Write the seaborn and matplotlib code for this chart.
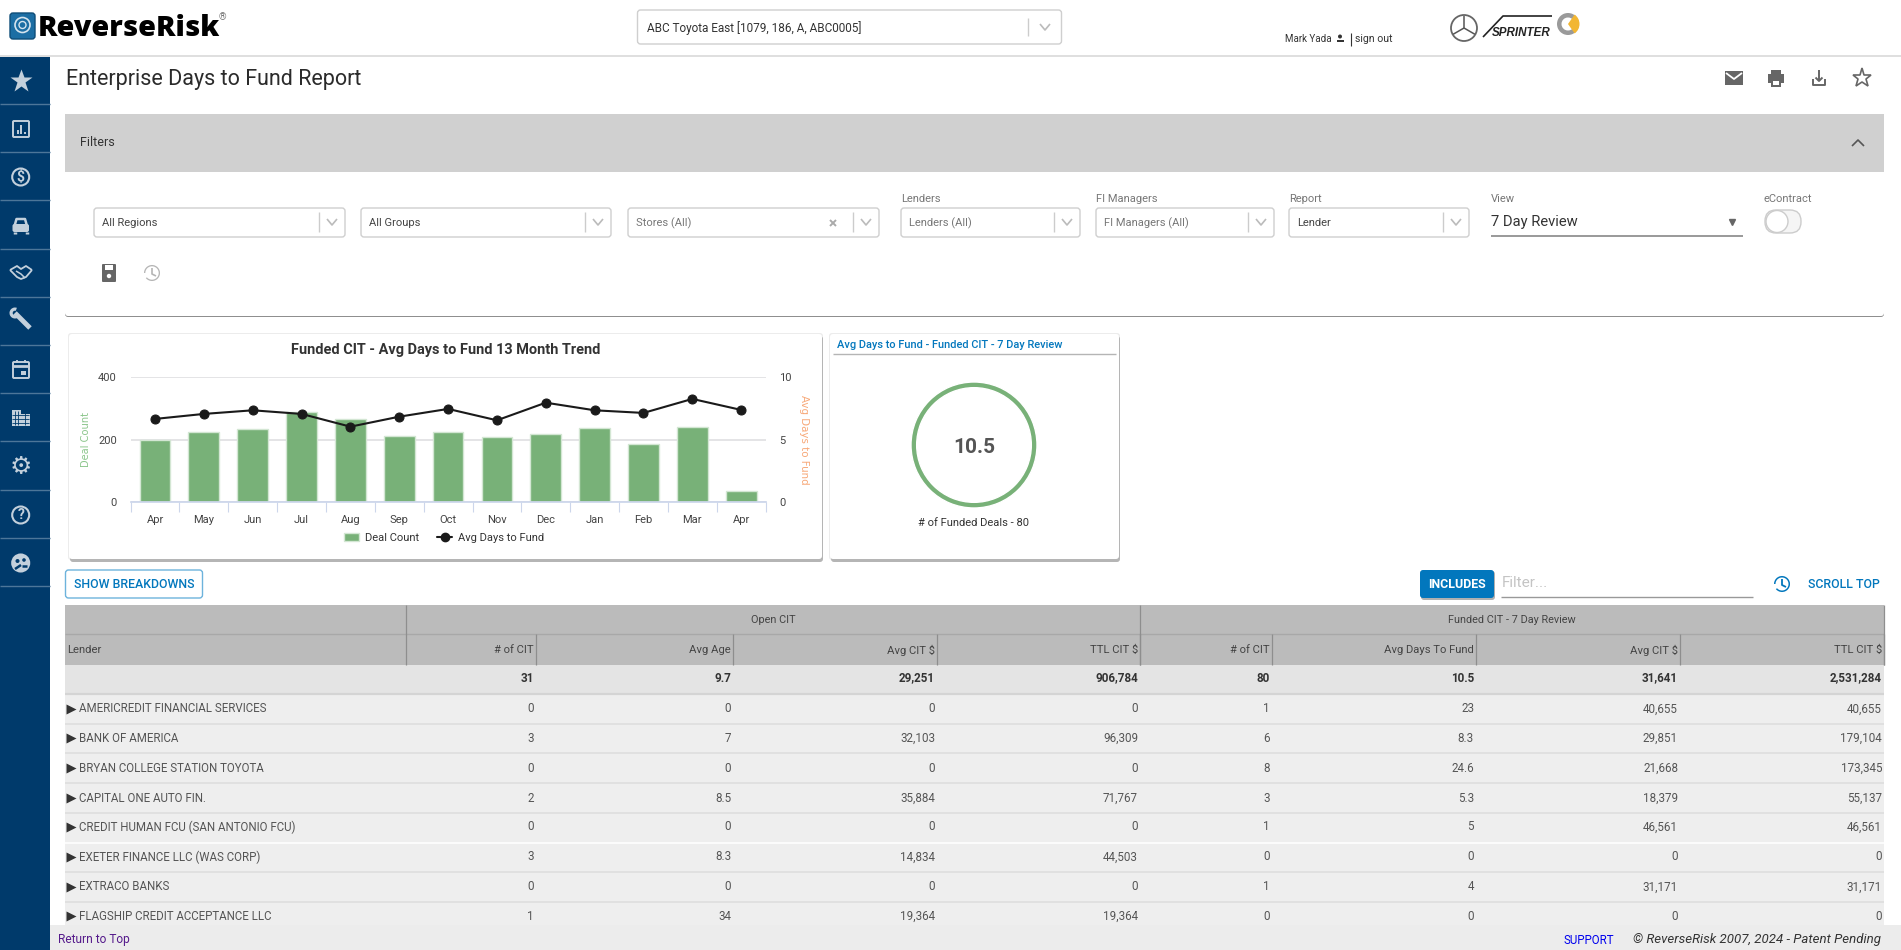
import numpy as np
import pandas as pd
import matplotlib
matplotlib.use("Agg")
import matplotlib.pyplot as plt
import seaborn as sns
from matplotlib.lines import Line2D
from matplotlib.patches import Circle, FancyBboxPatch, Patch, Rectangle, Wedge

months = ["Apr", "May", "Jun", "Jul", "Aug", "Sep", "Oct", "Nov", "Dec", "Jan", "Feb", "Mar", "Apr"]
deal_count = [199, 225, 234, 289, 266, 213, 225, 208, 217, 239, 185, 242, 35]
avg_days = [6.67, 7.07, 7.36, 7.07, 6.05, 6.85, 7.47, 6.56, 7.97, 7.36, 7.15, 8.27, 7.39]

lenders = ["AMERICREDIT FINANCIAL SERVICES", "BANK OF AMERICA", "BRYAN COLLEGE STATION TOYOTA",
           "CAPITAL ONE AUTO FIN.", "CREDIT HUMAN FCU (SAN ANTONIO FCU)", "EXETER FINANCE LLC (WAS CORP)",
           "EXTRACO BANKS", "FLAGSHIP CREDIT ACCEPTANCE LLC"]
open_count = [0, 3, 0, 2, 0, 3, 0, 1]
open_age = [0, 7, 0, 8.5, 0, 8.3, 0, 34]
open_avg = [0, 32103, 0, 35884, 0, 14834, 0, 19364]
open_total = [0, 96309, 0, 71767, 0, 44503, 0, 19364]
funded_count = [1, 6, 8, 3, 1, 0, 1, 0]
funded_days = [23, 8.3, 24.6, 5.3, 5, 0, 4, 0]
funded_avg = [40655, 29851, 21668, 18379, 46561, 0, 31171, 0]
funded_total = [40655, 179104, 173345, 55137, 46561, 0, 31171, 0]
table_totals = [31, 9.7, 29251, 906784, 80, 10.5, 31641, 2531284]
column_titles = ["# of CIT", "Avg Age", "Avg CIT $", "TTL CIT $", "# of CIT", "Avg Days To Fund", "Avg CIT $", "TTL CIT $"]
column_edges = [536, 733, 937, 1140, 1272, 1476, 1680, 1884]
row_centers = [709, 738, 768, 798, 827, 857, 887, 916]
row_lines = [724, 753, 783, 813, 843, 872, 902]

filter_boxes = [(94, 345, "All Regions", None), (361, 611, "All Groups", None), (628, 879, "Stores (All)", None),
                (901, 1080, "Lenders (All)", "Lenders"), (1096, 1274, "FI Managers (All)", "FI Managers"),
                (1289, 1469, "Lender", "Report")]
placeholder_filters = ["Stores (All)", "Lenders (All)", "FI Managers (All)"]

ring_value = 10.5
funded_deals = 80

NAVY = "#003a6b"
GREEN = "#78b178"
BLUE = "#0277bd"
ICON = "#c3d0dc"

sns.set_theme(style="white")
plt.rcParams["font.family"] = ["Roboto", "DejaVu Sans"]
plt.rcParams["axes.unicode_minus"] = False

fig = plt.figure(figsize=(19.01, 9.5), dpi=100, facecolor="white")

# page background drawn in pixel coordinates
page = fig.add_axes([0, 0, 1, 1])
page.set_xlim(0, 1901)
page.set_ylim(950, 0)
page.axis("off")


def rect(x0, y0, x1, y1, color, z=1, **kw):
    page.add_patch(Rectangle((x0, y0), x1 - x0, y1 - y0, facecolor=color, edgecolor="none", zorder=z, **kw))


def box(x0, y0, x1, y1, face="white", edge="#cfcfcf", lw=1, rad=3, z=2):
    page.add_patch(FancyBboxPatch((x0 + rad, y0 + rad), x1 - x0 - 2 * rad, y1 - y0 - 2 * rad,
                                  boxstyle=f"round,pad={rad},rounding_size={rad}", facecolor=face,
                                  edgecolor=edge, linewidth=lw, zorder=z))


def label(x, y, s, size=7.5, color="#333333", ha="left", **kw):
    page.text(x, y, s, fontsize=size, color=color, ha=ha, va="center", zorder=6, **kw)


def seg(xs, ys, color, lw=1.0, z=5, **kw):
    page.plot(xs, ys, color=color, linewidth=lw, zorder=z, solid_capstyle=kw.pop("cap", "butt"), **kw)


def ring(x, y, r, color, lw=1.5, face="none", z=5):
    page.add_patch(Circle((x, y), r, facecolor=face, edgecolor=color, linewidth=lw, zorder=z))


def card(x0, y0, x1, y1):
    box(x0 - 1, y0 - 1, x1 + 1, y1 + 1, face="#ececec", edge="none", z=2)
    box(x0 + 1, y0 + 2, x1 + 1, y1 + 3, face="#b5b5b5", edge="none", z=2)
    box(x0, y0, x1, y1, edge="none", z=3)


# top header
seg([0, 1901], [56, 56], "#d9d9d9", lw=1.2)
box(10, 13, 35, 39, face="#1c6ea4", edge="#0f4d78", rad=3, z=3)
ring(22.5, 25, 7.5, "#d5e4ee", lw=1.2)
ring(22.5, 25, 3.5, "#d5e4ee", lw=1.0)
page.text(38, 28, "ReverseRisk", fontsize=20.8, color="black", family="Open Sans", fontweight="extra bold",
          ha="left", va="center", zorder=6)
label(219, 17, "®", size=7, color="#777777")
box(637.5, 10, 1061.5, 44)
label(647, 28, "ABC Toyota East [1079, 186, A, ABC0005]", size=8.5)
seg([1028, 1028], [18, 36], "#cccccc")
seg([1040, 1045, 1050], [24, 30, 24], "#bbbbbb", lw=1.2)
label(1285, 39, "Mark Yada", size=7)
page.add_patch(Circle((1340, 36.5), 2, facecolor="#333333", edgecolor="none", zorder=6))
rect(1336.5, 39.5, 1343.5, 42, "#333333", z=6)
seg([1350.5, 1350.5], [33, 46], "#333333", lw=0.8)
label(1355, 39, "sign out", size=7.6)

# dealer logos
ring(1464, 28, 13, "#666666", lw=1.3)
for ang in [90, 210, 330]:
    seg([1464, 1464 + 12.5 * np.cos(np.radians(ang))], [28, 28 - 12.5 * np.sin(np.radians(ang))], "#555555", lw=1.1)
seg([1483, 1503, 1552], [37, 16, 16], "#222222", lw=1.2)
page.text(1492, 33, "SPRINTER", fontsize=8.4, color="#222222", fontstyle="italic", fontweight="bold",
          ha="left", va="center", zorder=6, family="Liberation Sans")
page.add_patch(Wedge((1568, 24), 11, 0, 360, width=4.5, facecolor="#9a9a9a", edgecolor="none", zorder=5))
page.add_patch(Wedge((1568, 24), 11.5, -55, 55, facecolor="#f2b632", edgecolor="none", zorder=6))

# left nav
rect(0, 57, 50, 950, NAVY, z=2)
for y in [104, 152, 200, 249, 297, 345, 393, 441, 490, 538, 586]:
    seg([0, 50], [y, y], "#4d7699", lw=1)
page.plot([20.7], [81], marker="*", markersize=17, color=ICON, markeredgecolor="none", zorder=6)
box(13, 121, 29, 137, face="none", edge=ICON, lw=1.4, rad=1, z=6)
for x, top in [(17.5, 130), (21, 125), (24.5, 132)]:
    seg([x, x], [top, 134], ICON, lw=1.4)
ring(20.7, 177, 8.5, ICON)
label(20.7, 177, "$", size=10, color=ICON, ha="center", fontweight="bold")
box(12.5, 224, 29, 232, face=ICON, edge="none", rad=2, z=6)
seg([14.5, 16.5, 25, 27], [226, 219, 219, 226], ICON, lw=1.8)
seg([15, 15], [232, 234], ICON, lw=2.5)
seg([26.5, 26.5], [232, 234], ICON, lw=2.5)
seg([10, 17, 21, 26, 32], [270, 266, 269, 266, 270], ICON, lw=1.3)
seg([10, 17, 21, 26, 32], [270, 277, 279, 277, 270], ICON, lw=1.3)
seg([16, 21, 25], [271, 274, 278], ICON, lw=1.1)
seg([15, 30], [313, 328], ICON, lw=3.5)
page.add_patch(Wedge((15, 313), 5.5, 30, 290, width=3.2, facecolor=ICON, edgecolor="none", zorder=6))
box(13, 362, 29, 378, face="none", edge=ICON, lw=1.4, rad=1, z=6)
seg([13, 29], [366, 366], ICON, lw=2)
rect(21, 371, 25.5, 375, ICON, z=6)
seg([17, 17], [360, 363], ICON, lw=1.3)
seg([25, 25], [360, 363], ICON, lw=1.3)
rect(12, 410, 21, 426, ICON, z=6)
rect(21, 414, 30, 426, ICON, z=6)
for gx in [15, 18, 24.5]:
    seg([gx, gx], [411, 425], NAVY, lw=0.6, z=7)
for gy in [415, 419, 423]:
    seg([12, 29], [gy, gy], NAVY, lw=0.6, z=7)
page.text(20.7, 467, "⚙", fontsize=18, color=ICON, ha="center", va="center", family="DejaVu Sans", zorder=6)
ring(20.7, 515, 8.5, ICON)
label(20.7, 515, "?", size=10, color=ICON, ha="center", fontweight="bold")
ring(20.7, 563, 8.5, ICON, face=ICON)
for cx, cy, r in [(17.5, 561, 2), (24, 560, 1.8)]:
    page.add_patch(Circle((cx, cy), r, facecolor=NAVY, edgecolor="none", zorder=7))
seg([15, 21], [569, 565], NAVY, lw=1.8, z=7)
seg([22, 27], [566, 566], NAVY, lw=1.8, z=7)

# title row and action icons
label(66, 79, "Enterprise Days to Fund Report", size=15.5, color="#2b2b2b", fontweight="normal")
rect(1725, 71, 1743, 85, "#666666", z=5)
seg([1726, 1734, 1742], [73, 79, 73], "white", lw=1.3)
rect(1768, 74, 1784, 83, "#666666", z=5)
rect(1771, 70, 1781, 74, "#666666", z=5)
rect(1771, 79, 1781, 87, "#666666", z=5)
rect(1773, 81, 1779, 85, "white", z=6)
seg([1813, 1813, 1825, 1825], [79, 85, 85, 79], "#666666", lw=1.4)
seg([1819, 1819], [70, 81], "#666666", lw=1.4)
seg([1815.5, 1819, 1822.5], [77.5, 81, 77.5], "#666666", lw=1.4)
page.plot([1862], [78], marker="*", markersize=14, markerfacecolor="white", markeredgecolor="#666666",
          markeredgewidth=1.2, zorder=6)

# filter panel
box(65, 114, 1884, 317, face="#8f8f8f", edge="none", rad=3, z=2)
box(65, 114, 1884, 316, edge="none", rad=3, z=2)
rect(65, 114, 1884, 172, "#d0d0d0", z=3)
label(80, 143, "Filters", size=9, color="#333333")
seg([1852, 1858, 1864], [146, 140, 146], "#555555", lw=1.2)
for x0, x1, text, caption in filter_boxes:
    box(x0, 208, x1, 237)
    label(x0 + 8, 223, text, size=8, color="#777777" if text in placeholder_filters else "#444444")
    seg([x1 - 26, x1 - 26], [212, 232], "#cccccc")
    seg([x1 - 18, x1 - 13, x1 - 8], [219, 225, 219], "#bbbbbb", lw=1.2)
    if caption:
        label(x0, 199, caption, size=8, color="#777777")
seg([830, 836], [220, 226], "#aaaaaa", lw=1.4)
seg([836, 830], [220, 226], "#aaaaaa", lw=1.4)
label(1491, 199, "View", size=8, color="#777777")
label(1491, 222, "7 Day Review", size=10.6, color="#333333")
seg([1491, 1743], [236, 236], "#888888", lw=1.2)
page.plot([1732], [222], marker="v", markersize=4.5, color="#666666", zorder=6)
label(1764, 199, "eContract", size=8, color="#777777")
box(1765, 210, 1801, 233, face="#f5f5f5", edge="#cccccc", rad=11, z=4)
ring(1777, 221.5, 11, "#cccccc", lw=1, face="white")
box(102, 264, 116, 282, face="#666666", edge="none", rad=1, z=5)
rect(105, 265, 113, 270, "white", z=6)
page.add_patch(Circle((109, 276), 2.2, facecolor="white", edgecolor="none", zorder=6))
page.add_patch(Wedge((152, 273), 8, -180, 140, width=1.3, facecolor="#b5b5b5", edgecolor="none", zorder=5))
seg([152, 152, 156], [268, 274, 276], "#b5b5b5", lw=1.2)

# cards
card(69, 334, 822, 559)
card(830, 334, 1119, 559)
page.text(445.6, 350, "Funded CIT - Avg Days to Fund 13 Month Trend", fontsize=10.45, color="#333333",
          fontweight="bold", ha="center", va="center", zorder=6)

df_trend = pd.DataFrame({"slot": range(len(months)), "Deal Count": deal_count, "Avg Days to Fund": avg_days})

ax = fig.add_axes([130.6 / 1901, 1 - 502.3 / 950, 635 / 1901, 125 / 950], facecolor="none")
sns.barplot(data=df_trend, x="slot", y="Deal Count", color=GREEN, saturation=1, width=0.63,
            edgecolor="#d3e6d3", linewidth=1, ax=ax)
ax.set_xlim(-0.5, 12.5)
ax.set_ylim(0, 400)
ax.set_axisbelow(True)
ax.grid(axis="y", color="#dcdcdf", linewidth=1.1)
ax.set_yticks([0, 200, 400])
ax.set_xticks(range(13))
ax.set_xticklabels(months)
ax.set_xticks(np.arange(-0.5, 13), minor=True)
ax.tick_params(axis="x", which="major", length=0, pad=9, labelsize=8, labelcolor="#444444")
ax.tick_params(axis="x", which="minor", bottom=True, length=7.5, width=0.8, color="#ccd6eb", direction="out")
ax.tick_params(axis="y", length=0, pad=10, labelsize=8, labelcolor="#444444")
sns.despine(ax=ax, left=True, right=True, top=True)
ax.spines["bottom"].set_color("#ccd6eb")
ax.set_xlabel("")
ax.set_ylabel("Deal Count", fontsize=7.1, color="#8cc68c", fontfamily="DejaVu Sans", labelpad=5)

ax2 = ax.twinx()
sns.lineplot(data=df_trend, x="slot", y="Avg Days to Fund", color="#1a1a1a", linewidth=1.5, marker="o",
             markersize=6.5, markeredgecolor="#1a1a1a", ax=ax2)
ax2.set_ylim(0, 10)
ax2.set_yticks([0, 5, 10])
ax2.tick_params(axis="y", length=0, pad=10, labelsize=8, labelcolor="#444444")
ax2.set_ylabel("Avg Days to Fund", fontsize=7.4, color="#f7a878", fontfamily="DejaVu Sans", rotation=270, labelpad=12)
ax2.grid(False)
sns.despine(ax=ax2, left=True, right=True, top=True, bottom=True)

ax2.legend(handles=[Patch(facecolor=GREEN, edgecolor="#d3e6d3", label="Deal Count"),
                    Line2D([0], [0], color="#1a1a1a", linewidth=1.5, marker="o", markersize=6, label="Avg Days to Fund")],
           loc="center", bbox_to_anchor=(444 / 1901, 1 - 538 / 950), bbox_transform=fig.transFigure, ncol=2,
           frameon=False, fontsize=8, labelcolor="#333333", handlelength=1.4, handletextpad=0.5, columnspacing=1.6)

# avg days ring card
label(837, 345, "Avg Days to Fund - Funded CIT - 7 Day Review", size=7.9, color=BLUE, fontweight="medium")
seg([833, 1116], [354.3, 354.3], "#b5b5b5", lw=1)
ax_ring = fig.add_axes([911 / 1901, 1 - 508 / 950, 126 / 1901, 126 / 950])
ax_ring.pie([ring_value], colors=[GREEN], radius=1, wedgeprops={"width": 0.09})
ax_ring.set_xlim(-1, 1)
ax_ring.set_ylim(-1, 1)
ax_ring.text(0, -0.04, f"{ring_value}", fontsize=15, fontweight="bold", color="#555555", ha="center", va="center")
page.text(974, 523, f"# of Funded Deals - {funded_deals}", fontsize=8, color="#333333", ha="center", va="center", zorder=6)

# table toolbar
box(65.5, 570, 202.5, 598, edge="#6db3dc", lw=1)
label(134, 584, "SHOW BREAKDOWNS", size=8.9, color=BLUE, ha="center", fontweight="medium")
box(1421, 571, 1495, 600, face="#b0b0b0", edge="none", z=2)
box(1420, 570, 1494, 598, face=BLUE, edge="none", z=3)
label(1457, 584, "INCLUDES", size=8.9, color="white", ha="center", fontweight="bold")
label(1502, 583, "Filter...", size=11, color="#c4c4c4")
seg([1501, 1753], [597, 597], "#999999", lw=1)
page.add_patch(Wedge((1782, 584), 8, -180, 140, width=1.5, facecolor=BLUE, edgecolor="none", zorder=5))
seg([1782, 1782, 1786], [579, 585, 587], BLUE, lw=1.3)
label(1808, 584, "SCROLL TOP", size=8.9, color=BLUE, fontweight="medium")

# table
rect(65, 605, 1884, 665, "#bbbbbb", z=3)
rect(65, 665, 1884, 693, "#e4e4e4", z=3)
rect(65, 693, 1884, 925, "#eeeeee", z=3)
seg([65, 1884], [634, 634], "#a8a8a8", lw=1)
seg([65, 1884], [693.5, 693.5], "#d4d4d4", lw=1.6)
for y in row_lines:
    seg([65, 1884], [y, y], "white" if y == 843 else "#dcdcdc", lw=1.1)
seg([405.5, 405.5], [605, 665], "#8e8e8e", lw=0.9)
seg([1140, 1140], [605, 665], "#8e8e8e", lw=0.9)
seg([1884, 1884], [605, 665], "#8e8e8e", lw=0.9)
for x in column_edges:
    seg([x, x], [634, 665], "#8e8e8e", lw=0.9)
label(773, 620, "Open CIT", size=7.8, color="#444444", ha="center")
label(1512, 620, "Funded CIT - 7 Day Review", size=7.8, color="#444444", ha="center")
label(67, 650, "Lender", size=8.1, color="#444444")
for x, title, total in zip(column_edges, column_titles, table_totals):
    label(x - 2, 650, title, size=8.1, color="#444444", ha="right")
    label(x - 2, 678, f"{total:,}", size=8.4, color="#333333", ha="right", fontweight="bold")

columns = [open_count, open_age, open_avg, open_total, funded_count, funded_days, funded_avg, funded_total]
for i, name in enumerate(lenders):
    y = row_centers[i]
    page.plot([71], [y], marker=">", markersize=6.5, color="#333333", markeredgecolor="none", zorder=6)
    label(79, y, name, size=8.3, color="#555555")
    for x, col in zip(column_edges, columns):
        label(x - 2, y, f"{col[i]:,}", size=8.4, color="#555555", ha="right")

# footer strip
rect(50, 925, 1901, 950, "#ececec", z=4)
label(57.6, 940, "Return to Top", size=8.6, color="#551a8b")
label(1563, 940, "SUPPORT", size=8.3, color="#0000ee")
label(1633, 940, "© ReverseRisk 2007, 2024 - Patent Pending", size=9.5, color="#333333", fontstyle="italic")

fig.savefig("out.png", dpi=100)
